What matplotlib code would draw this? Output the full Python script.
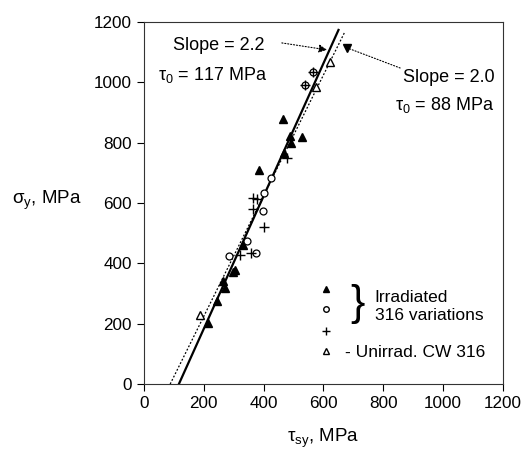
import matplotlib.pyplot as plt
import numpy as np

plt.rcParams['font.family'] = ['Liberation Sans', 'DejaVu Sans']

# irradiated 316 variations
irr_tri_x = [465, 488, 528, 491, 468, 384, 331, 304, 297, 264, 271, 244, 214]
irr_tri_y = [878, 822, 819, 799, 766, 709, 461, 378, 372, 341, 318, 275, 202]
irr_circ_x = [565, 538, 424, 401, 398, 344, 284, 374]
irr_circ_y = [1034, 991, 683, 633, 573, 474, 424, 434]
irr_plus_x = [565, 538, 478, 364, 378, 364, 401, 321, 358]
irr_plus_y = [1034, 991, 749, 617, 613, 580, 520, 428, 434]
# unirradiated CW 316
unirr_x = [622, 575, 187]
unirr_y = [1067, 984, 229]

# fits: sigma = slope * (tau - tau0)
fit_solid = (2.2, 117)
fit_dotted = (2.0, 88)
solid_sig = [0, 1173]
dotted_sig = [0, 1167]

fig = plt.figure(figsize=(5.23, 4.54), dpi=100)
ax = fig.add_axes([0.275, 0.154, 0.687, 0.798])

s, t0 = fit_solid
sig = np.array(solid_sig)
ax.plot(sig / s + t0, sig, color='black', lw=1.6)
s, t0 = fit_dotted
sig = np.array(dotted_sig)
ax.plot(sig / s + t0, sig, color='black', lw=0.9, ls=(0, (1.5, 1.5)))

ax.plot(irr_tri_x, irr_tri_y, '^', color='black', ms=6, ls='none')
ax.plot(irr_circ_x, irr_circ_y, 'o', mfc='white', mec='black', mew=0.9, ms=5, ls='none')
ax.plot(irr_plus_x, irr_plus_y, '+', color='black', mew=1.0, ms=7, ls='none')
ax.plot(unirr_x, unirr_y, '^', mfc='white', mec='black', mew=1.0, ms=5.5, ls='none')

# annotations
fs = 13
ax.text(97, 1120, 'Slope = 2.2', fontsize=fs, va='center')
ax.text(47, 1024, 'τ$_\\mathregular{0}$ = 117 MPa', fontsize=fs, va='center')
ax.text(866, 1014, 'Slope = 2.0', fontsize=fs, va='center')
ax.text(839, 925, 'τ$_\\mathregular{0}$ = 88 MPa', fontsize=fs, va='center')
ax.annotate('', xy=(612, 1107), xytext=(461, 1130),
            arrowprops=dict(arrowstyle='-|>', ls=':', lw=0.8, color='black',
                            mutation_scale=12, shrinkA=0, shrinkB=0))
ax.annotate('', xy=(678, 1114), xytext=(856, 1047),
            arrowprops=dict(arrowstyle='-', ls=':', lw=0.8, color='black',
                            shrinkA=0, shrinkB=0))
ax.plot([678], [1114], 'v', color='black', ms=6)

# legend
lx = 0.507
lfs = 12.5
ax.plot([lx], [0.262], '^', color='black', ms=4.5, transform=ax.transAxes)
ax.plot([lx], [0.207], 'o', mfc='white', mec='black', ms=4, transform=ax.transAxes)
ax.plot([lx], [0.146], '+', color='black', ms=6, transform=ax.transAxes)
ax.plot([lx], [0.091], '^', mfc='white', mec='black', ms=4.5, transform=ax.transAxes)
ax.text(0.575, 0.222, '}', fontsize=31, va='center', ha='left', transform=ax.transAxes)
ax.text(0.643, 0.240, 'Irradiated', fontsize=lfs, va='center', transform=ax.transAxes)
ax.text(0.643, 0.188, '316 variations', fontsize=lfs, va='center', transform=ax.transAxes)
ax.text(0.56, 0.088, '- Unirrad. CW 316', fontsize=lfs, va='center', transform=ax.transAxes)

ax.set_xlim(0, 1200)
ax.set_ylim(0, 1200)
ax.set_xticks(np.arange(0, 1201, 200))
ax.set_yticks(np.arange(0, 1201, 200))
ax.tick_params(direction='out', length=5, width=0.8, labelsize=12.3)
for sp in ax.spines.values():
    sp.set_linewidth(0.8)
    sp.set_color('#333333')

ax.set_xlabel('τ$_\\mathregular{sy}$, MPa', fontsize=13.5, labelpad=11)
ax.set_ylabel('σ$_\\mathregular{y}$, MPa', fontsize=13.5, rotation=0, ha='center', va='center')
ax.yaxis.set_label_coords(-0.27, 0.508)

fig.savefig('out.png', dpi=100)
